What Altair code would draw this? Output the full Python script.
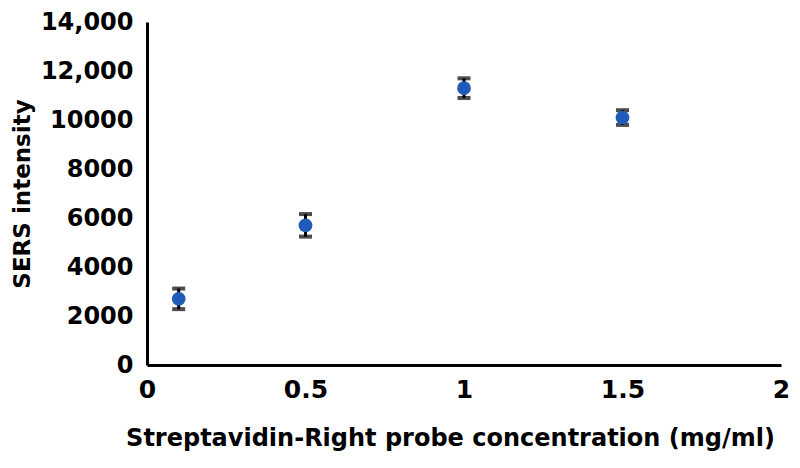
import altair as alt
import pandas as pd

conc = [0.1, 0.5, 1.0, 1.5]
intensity = [2700, 5700, 11300, 10100]
err = [420, 460, 400, 300]

df = pd.DataFrame({"conc": conc, "y": intensity, "err": err})
df["lo"] = df["y"] - df["err"]
df["hi"] = df["y"] + df["err"]

FONT = "DejaVu Sans"

x = alt.X("conc:Q", scale=alt.Scale(domain=[0, 2], nice=False),
          axis=alt.Axis(values=[0, 0.5, 1, 1.5, 2], title="Streptavidin-Right probe concentration (mg/ml)",
                        grid=False, ticks=False, domainColor="black", domainWidth=3,
                        labelFont=FONT, labelFontSize=25, labelFontWeight="bold", labelColor="black",
                        labelPadding=12, labelExpr="format(datum.value, '')", labelFlush=False,
                        titleFont=FONT, titleFontSize=24, titleFontWeight="bold", titleColor="black",
                        titlePadding=24, titleX=303, titleAnchor="start", titleAlign="center"))
y = alt.Y("y:Q", scale=alt.Scale(domain=[0, 14000], nice=False),
          axis=alt.Axis(values=list(range(0, 14001, 2000)), title="SERS intensity",
                        grid=False, ticks=False, domainColor="black", domainWidth=3,
                        labelFont=FONT, labelFontSize=24, labelFontWeight="bold", labelColor="black",
                        labelPadding=14, labelFlush=False,
                        labelExpr="datum.value >= 12000 ? format(datum.value, ',') : format(datum.value, 'd')",
                        titleFont=FONT, titleFontSize=23, titleFontWeight="bold", titleColor="black",
                        titlePadding=6))

base = alt.Chart(df)
bars = base.mark_rule(color="black", strokeWidth=3).encode(x=x, y="lo:Q", y2="hi:Q")
caps_lo = base.mark_tick(color="black", thickness=4, size=13, orient="horizontal").encode(x="conc:Q", y="lo:Q")
caps_hi = base.mark_tick(color="black", thickness=4, size=13, orient="horizontal").encode(x="conc:Q", y="hi:Q")
pts = base.mark_circle(color="#1F5BB8", opacity=1, size=190).encode(x="conc:Q", y=y)

chart = alt.layer(bars, caps_lo, caps_hi, pts).properties(
    width=634, height=343,
    autosize=alt.AutoSizeParams(type="none"),
    padding={"left": 139, "top": 14, "right": 11, "bottom": 95},
).configure_view(stroke=None)

chart.save("out.html", embed_options={"renderer": "svg", "actions": False})
